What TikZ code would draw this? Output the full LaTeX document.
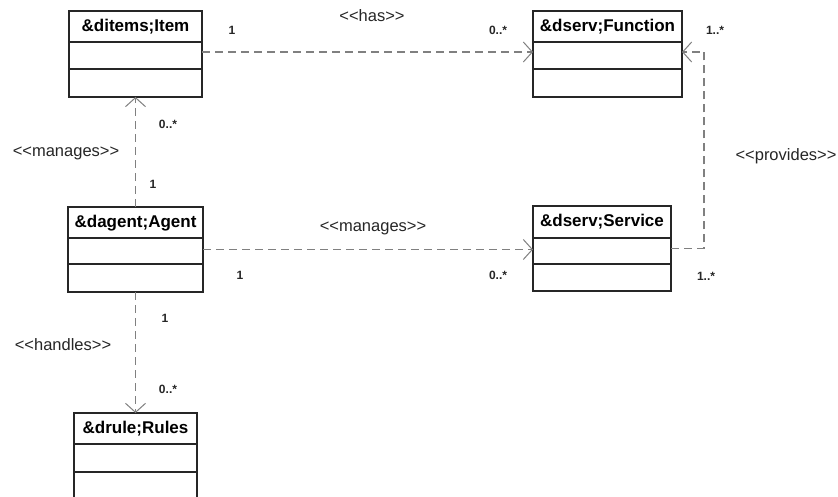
\documentclass[tikz,border=0pt]{standalone}
\usepackage{fontspec}
\setmainfont{Liberation Sans}
\newfontfamily\stfont{Liberation Sans}
\usetikzlibrary{arrows.meta,calc}
\begin{document}
\begin{tikzpicture}[x=1pt,y=-1pt,
  classbox/.style={draw=black!85, line width=1.4pt, inner sep=0pt, outer sep=0pt, rectangle, anchor=north west},
  sepline/.style={draw=black!85, line width=1.4pt},
  headtext/.style={font=\fontsize{17}{20}\selectfont\bfseries, inner sep=0pt},
  stereo/.style={font=\stfont\fontsize{16.5}{19}\selectfont, inner sep=0pt, text=black!85},
  mult/.style={font=\fontsize{12}{14}\selectfont\bfseries, inner sep=0pt, text=black!85},
  dep/.style={draw=black!50, line width=1.3pt, dash pattern=on 8pt off 5pt,
    -{Straight Barb[length=9pt,width=20pt,line width=1pt]}}
]
\useasboundingbox (0,0) rectangle (838,497);
\clip (0,0) rectangle (838,497);
\fill[white] (0,0) rectangle (838,497);

% classes
\node[classbox, minimum width=133pt, minimum height=86pt] (item) at (69,11) {};
\node[headtext] (itemh) at ($(item.north)+(0,16)$) {\&ditems;Item};
\draw[sepline] ($(item.north west)+(0,31)$) -- ($(item.north east)+(0,31)$);
\draw[sepline] ($(item.north west)+(0,58)$) -- ($(item.north east)+(0,58)$);

\node[classbox, minimum width=149pt, minimum height=86pt] (function) at (533,11) {};
\node[headtext] (functionh) at ($(function.north)+(0,16)$) {\&dserv;Function};
\draw[sepline] ($(function.north west)+(0,31)$) -- ($(function.north east)+(0,31)$);
\draw[sepline] ($(function.north west)+(0,58)$) -- ($(function.north east)+(0,58)$);

\node[classbox, minimum width=135pt, minimum height=85pt] (agent) at (68,207) {};
\node[headtext] (agenth) at ($(agent.north)+(0,16)$) {\&dagent;Agent};
\draw[sepline] ($(agent.north west)+(0,31)$) -- ($(agent.north east)+(0,31)$);
\draw[sepline] ($(agent.north west)+(0,57)$) -- ($(agent.north east)+(0,57)$);

\node[classbox, minimum width=138pt, minimum height=85pt] (service) at (533,206) {};
\node[headtext] (serviceh) at ($(service.north)+(0,16)$) {\&dserv;Service};
\draw[sepline] ($(service.north west)+(0,32)$) -- ($(service.north east)+(0,32)$);
\draw[sepline] ($(service.north west)+(0,58)$) -- ($(service.north east)+(0,58)$);

\node[classbox, minimum width=123pt, minimum height=120pt] (rules) at (74,413) {};
\node[headtext] (rulesh) at ($(rules.north)+(0,16)$) {\&drule;Rules};
\draw[sepline] ($(rules.north west)+(0,31)$) -- ($(rules.north east)+(0,31)$);
\draw[sepline] ($(rules.north west)+(0,59)$) -- ($(rules.north east)+(0,59)$);

% connectors
\draw[dep] ($(item.north east)+(0,41)$) -- ($(function.north west)+(0,41)$);
\draw[dep] (agent.north) -- (item.south);
\draw[dep] (agent.east) -- (agent.east -| service.west);
\draw[dep] (service.east) -- ++(33,0) |- ($(function.north east)+(0,41)$);
\draw[dep] (agent.south) -- (rules.north);

% labels
\node[mult] (m1) at (232,30) {1};
\node[stereo] (s1) at (372,16) {<<has>>};
\node[mult] (m2) at (498,30) {0..*};
\node[mult] (m3) at (715,30) {1..*};
\node[mult] (m4) at (168,124) {0..*};
\node[stereo] (s2) at (66,153) {<<manages>>};
\node[mult] (m5) at (153,184) {1};
\node[stereo] (s3) at (786,156) {<<provides>>};
\node[stereo] (s4) at (373,228) {<<manages>>};
\node[mult] (m6) at (240,275) {1};
\node[mult] (m7) at (498,275) {0..*};
\node[mult] (m8) at (706,276) {1..*};
\node[mult] (m9) at (165,318) {1};
\node[stereo] (s5) at (63,345) {<<handles>>};
\node[mult] (m10) at (168,389) {0..*};
\end{tikzpicture}
\end{document}
